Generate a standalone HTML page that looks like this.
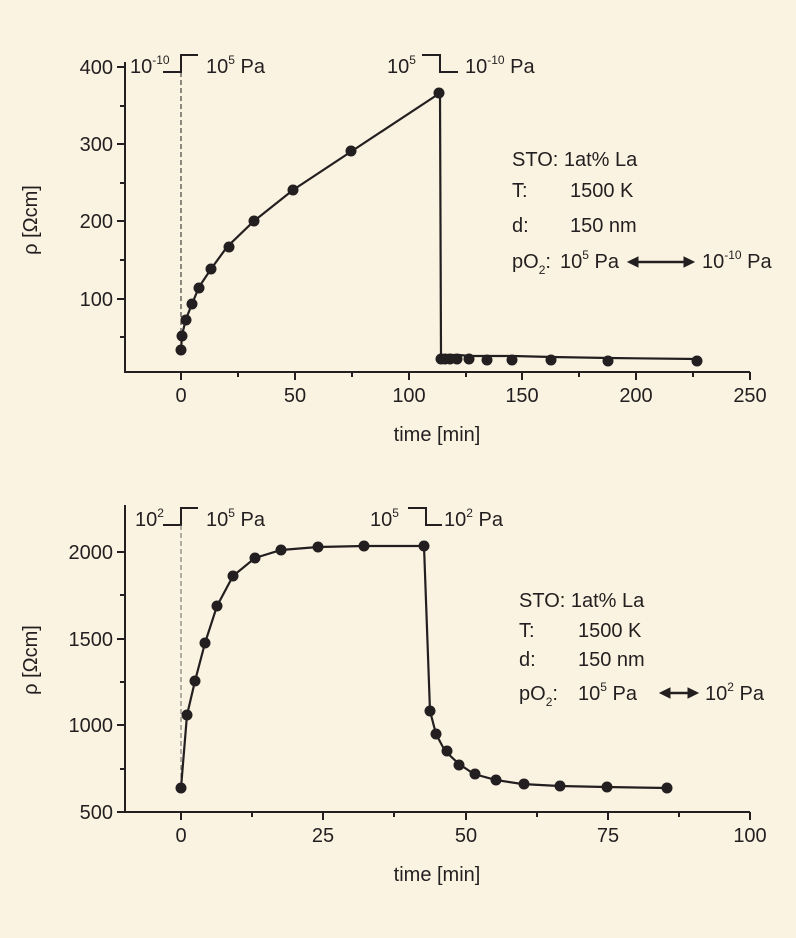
<!DOCTYPE html>
<html><head><meta charset="utf-8"><style>
html,body{margin:0;padding:0;background:#FAF3E1;}
svg{display:block;}
text{font-family:"Liberation Sans",sans-serif;fill:#231f20;font-size:20px;}
.s{font-size:12px;}
</style></head><body>
<svg width="796" height="938" viewBox="0 0 796 938" xmlns="http://www.w3.org/2000/svg">
<rect width="796" height="938" fill="#FAF3E1"/>
<g stroke="#231f20" stroke-width="2" fill="none">
 <polyline points="125,62 125,372 750,372"/>
 <path d="M117,67H125M117,144H125M117,221H125M117,299H125M120,106H125M120,183H125M120,260H125M120,337H125"/>
 <path d="M181,372V380M295,372V380M409,372V380M522,372V380M636,372V380M750,372V380M238,372V377M352,372V377M466,372V377M579,372V377M693,372V377"/>
 <path d="M163,72H181V55H198"/>
 <path d="M422,55H440V72H458"/>
 <polyline points="125,505 125,812 750,812"/>
 <path d="M117,552H125M117,639H125M117,725H125M117,812H125M120,595H125M120,682H125M120,769H125"/>
 <path d="M181,812V820M323,812V820M466,812V820M608,812V820M750,812V820M252,812V817M394,812V817M537,812V817M679,812V817"/>
 <path d="M163,525H181V508H198"/>
 <path d="M408,508H426V525H442"/>
</g>
<line x1="181" y1="72" x2="181" y2="355" stroke="#231f20" stroke-width="1" stroke-dasharray="5,3"/>
<line x1="181" y1="525" x2="181" y2="785" stroke="#666" stroke-width="1" stroke-dasharray="5,3"/>

<g fill="#231f20">
<polyline fill="none" stroke="#231f20" stroke-width="2.2" points="181,350 182,335 186,319 192,304 199,287 211,269 227,247 254,221 293,190 352,151 440,93 441,355 443,355 447,355 451,355 459,355 470,356 486,356 513,356 552,357 609,358 697,359"/>
<circle cx="181" cy="350" r="5.5"/><circle cx="182" cy="336" r="5.5"/><circle cx="186" cy="320" r="5.5"/><circle cx="192" cy="304" r="5.5"/><circle cx="199" cy="288" r="5.5"/><circle cx="211" cy="269" r="5.5"/><circle cx="229" cy="247" r="5.5"/><circle cx="254" cy="221" r="5.5"/><circle cx="293" cy="190" r="5.5"/><circle cx="351" cy="151" r="5.5"/><circle cx="439" cy="93" r="5.5"/>
<circle cx="441" cy="359" r="5.5"/><circle cx="445" cy="359" r="5.5"/><circle cx="450" cy="359" r="5.5"/><circle cx="457" cy="359" r="5.5"/><circle cx="469" cy="359" r="5.5"/><circle cx="487" cy="360" r="5.5"/><circle cx="512" cy="360" r="5.5"/><circle cx="551" cy="360" r="5.5"/><circle cx="608" cy="361" r="5.5"/><circle cx="697" cy="361" r="5.5"/>
<polyline fill="none" stroke="#231f20" stroke-width="2.2" points="181,788 187,715 195,681 205,643 217,606 233,576 255,558 281,550 318,547 364,546 424,546 430,711 436,734 445,751 459,764 474,774 496,780 522,784 559,786 606,787 667,788"/>
<circle cx="181" cy="788" r="5.5"/><circle cx="187" cy="715" r="5.5"/><circle cx="195" cy="681" r="5.5"/><circle cx="205" cy="643" r="5.5"/><circle cx="217" cy="606" r="5.5"/><circle cx="233" cy="576" r="5.5"/><circle cx="255" cy="558" r="5.5"/><circle cx="281" cy="550" r="5.5"/><circle cx="318" cy="547" r="5.5"/><circle cx="364" cy="546" r="5.5"/><circle cx="424" cy="546" r="5.5"/>
<circle cx="430" cy="711" r="5.5"/><circle cx="436" cy="734" r="5.5"/><circle cx="447" cy="751" r="5.5"/><circle cx="459" cy="765" r="5.5"/><circle cx="475" cy="774" r="5.5"/><circle cx="496" cy="780" r="5.5"/><circle cx="524" cy="784" r="5.5"/><circle cx="560" cy="786" r="5.5"/><circle cx="607" cy="787" r="5.5"/><circle cx="667" cy="788" r="5.5"/>
</g>

<g text-anchor="end">
<text x="113" y="74">400</text><text x="113" y="151">300</text><text x="113" y="228">200</text><text x="113" y="306">100</text>
<text x="113" y="559">2000</text><text x="113" y="646">1500</text><text x="113" y="732">1000</text><text x="113" y="819">500</text>
</g>
<g text-anchor="middle">
<text x="181" y="402">0</text><text x="295" y="402">50</text><text x="409" y="402">100</text><text x="522" y="402">150</text><text x="636" y="402">200</text><text x="750" y="402">250</text>
<text x="437" y="441">time [min]</text>
<text x="181" y="842">0</text><text x="323" y="842">25</text><text x="466" y="842">50</text><text x="608" y="842">75</text><text x="750" y="842">100</text>
<text x="437" y="881">time [min]</text>
</g>
<text transform="translate(37,220) rotate(-90)" text-anchor="middle">ρ [Ωcm]</text>
<text transform="translate(37,660) rotate(-90)" text-anchor="middle">ρ [Ωcm]</text>

<text x="130" y="73">10<tspan class="s" dy="-9">-10</tspan></text>
<text x="206" y="73">10<tspan class="s" dy="-9">5</tspan><tspan dy="9"> Pa</tspan></text>
<text x="387" y="73">10<tspan class="s" dy="-9">5</tspan></text>
<text x="465" y="73">10<tspan class="s" dy="-9">-10</tspan><tspan dy="9"> Pa</tspan></text>

<text x="512" y="166">STO: 1at% La</text>
<text x="512" y="197">T:</text><text x="570" y="197">1500 K</text>
<text x="512" y="232">d:</text><text x="570" y="232">150 nm</text>
<text x="512" y="268">pO<tspan class="s" dy="6">2</tspan><tspan dy="-6">:</tspan></text>
<text x="560" y="268">10<tspan class="s" dy="-9">5</tspan><tspan dy="9"> Pa</tspan></text>
<text x="702" y="268">10<tspan class="s" dy="-9">-10</tspan><tspan dy="9"> Pa</tspan></text>
<g stroke="#231f20" stroke-width="2.5" fill="#231f20">
<line x1="634" y1="262" x2="688" y2="262"/>
<path d="M628,262 l10,-5 v10z M694,262 l-10,-5 v10z" stroke-width="1"/>
</g>

<text x="135" y="526">10<tspan class="s" dy="-9">2</tspan></text>
<text x="206" y="526">10<tspan class="s" dy="-9">5</tspan><tspan dy="9"> Pa</tspan></text>
<text x="370" y="526">10<tspan class="s" dy="-9">5</tspan></text>
<text x="444" y="526">10<tspan class="s" dy="-9">2</tspan><tspan dy="9"> Pa</tspan></text>

<text x="519" y="607">STO: 1at% La</text>
<text x="519" y="637">T:</text><text x="578" y="637">1500 K</text>
<text x="519" y="666">d:</text><text x="578" y="666">150 nm</text>
<text x="519" y="700">pO<tspan class="s" dy="6">2</tspan><tspan dy="-6">:</tspan></text>
<text x="578" y="700">10<tspan class="s" dy="-9">5</tspan><tspan dy="9"> Pa</tspan></text>
<text x="705" y="700">10<tspan class="s" dy="-9">2</tspan><tspan dy="9"> Pa</tspan></text>
<g stroke="#231f20" stroke-width="2.5" fill="#231f20">
<line x1="666" y1="693" x2="692" y2="693"/>
<path d="M660,693 l10,-5 v10z M698,693 l-10,-5 v10z" stroke-width="1"/>
</g>
</svg>
</body></html>
